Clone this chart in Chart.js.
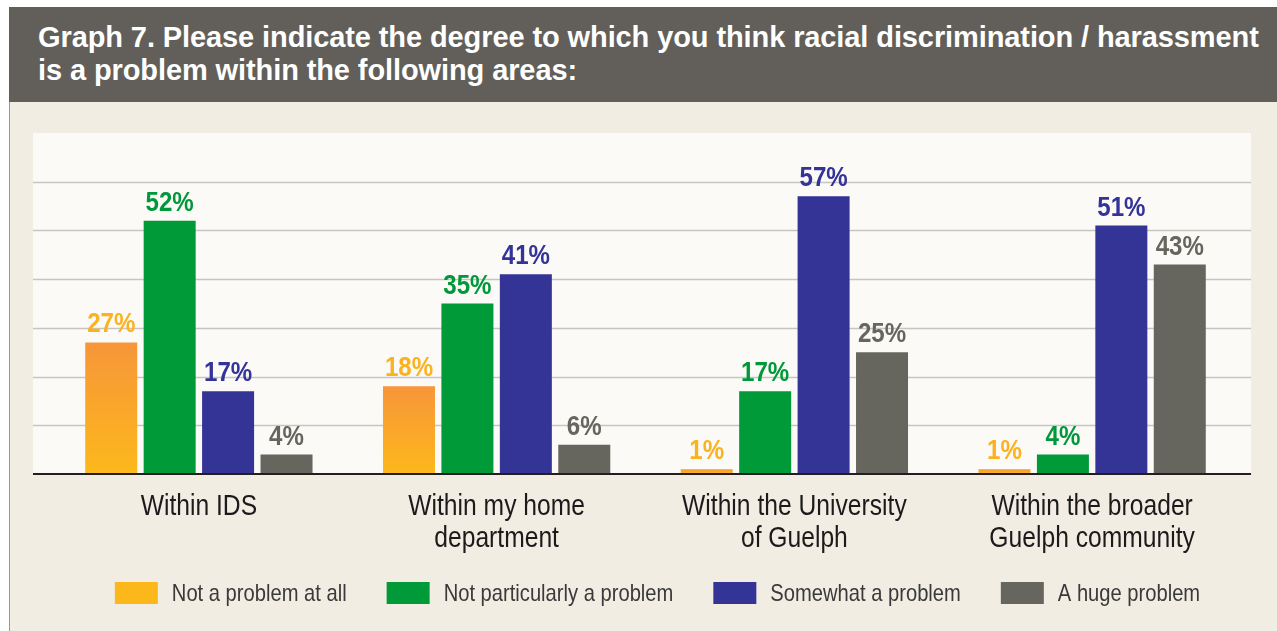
<!DOCTYPE html>
<html>
<head>
<meta charset="utf-8">
<script src="https://cdn.jsdelivr.net/npm/chart.js@4.4.1/dist/chart.umd.min.js"></script>
<style>
  html, body { margin: 0; padding: 0; background: #ffffff; }
  body { width: 1277px; height: 631px; position: relative; overflow: hidden; }
  #frame { position: absolute; left: 9px; top: 7px; right: 0; bottom: 0;
           background: #f1ede3; border-left: 1px solid #9a9892; }
  #title { position: absolute; left: 9px; top: 7px; right: 0; height: 95px;
           background: #625f5a; color: #ffffff; box-sizing: border-box;
           padding: 14px 0 0 29px; font-family: "Liberation Sans", Arial, sans-serif;
           font-weight: bold; font-size: 29px; line-height: 33px; letter-spacing: -0.1px; }
  #wrap { position: absolute; left: 0; top: 0; width: 1277px; height: 631px; }
</style>
</head>
<body>
<div id="frame"></div>
<div id="wrap"><canvas id="myChart" width="1277" height="631"></canvas></div>
<div id="title">Graph 7. Please indicate the degree to which you think racial discrimination / harassment<br>is a problem within the following areas:</div>
<script>
var categories = [
    ['Within IDS'],
    ['Within my home', 'department'],
    ['Within the University', 'of Guelph'],
    ['Within the broader', 'Guelph community']
];
var seriesNames = ['Not a problem at all', 'Not particularly a problem', 'Somewhat a problem', 'A huge problem'];
var notAProblem = [27, 18, 1, 1];
var notParticularly = [52, 35, 17, 4];
var somewhat = [17, 41, 57, 51];
var huge = [4, 6, 25, 43];
var yTicks = [0, 10, 20, 30, 40, 50, 60, 70];

var sans = '"Liberation Sans", Arial, sans-serif';

// no condensed face installed, so squeeze the regular one sideways
function narrowText(ctx, text, x, y, sx) {
    ctx.save();
    ctx.translate(x, y);
    ctx.scale(sx, 1);
    ctx.fillText(text, 0, 0);
    ctx.restore();
}

function orangeFill(c) {
    var chart = c.chart;
    var y = chart.scales.y;
    if (!chart.chartArea || !y) return '#fbb21f';
    var v = c.raw || 0;
    var top = y.getPixelForValue(v);
    var bottom = y.getPixelForValue(0);
    if (bottom - top < 1) return '#f7a030';
    var g = chart.ctx.createLinearGradient(0, top, 0, bottom);
    g.addColorStop(0, '#f7963a');
    g.addColorStop(1, '#fcb81b');
    return g;
}

var legendFills = ['#fcb81b', '#009a38', '#343497', '#67665e'];

var panel = {
    id: 'panel',
    beforeDatasetsDraw: function (chart) {
        var ctx = chart.ctx, y = chart.scales.y, a = chart.chartArea;
        ctx.save();
        ctx.fillStyle = '#fbfaf6';
        ctx.fillRect(33, a.top, 1251 - 33, a.bottom - a.top);
        ctx.strokeStyle = '#c6c5c2';
        ctx.lineWidth = 1.5;
        yTicks.forEach(function (t) {
            if (t === 0 || t === yTicks[yTicks.length - 1]) return;
            var py = Math.round(y.getPixelForValue(t)) + 0.5;
            ctx.beginPath(); ctx.moveTo(33, py); ctx.lineTo(1251, py); ctx.stroke();
        });
        ctx.restore();
    },
    afterDatasetsDraw: function (chart) {
        var ctx = chart.ctx, x = chart.scales.x, y = chart.scales.y, a = chart.chartArea;
        ctx.save();
        ctx.strokeStyle = '#231f20';
        ctx.lineWidth = 2;
        var py = y.getPixelForValue(0);
        ctx.beginPath(); ctx.moveTo(33, py); ctx.lineTo(1251, py); ctx.stroke();

        // value labels
        ctx.textAlign = 'center';
        ctx.textBaseline = 'alphabetic';
        ctx.font = 'bold 28px ' + sans;
        chart.data.datasets.forEach(function (ds, i) {
            var meta = chart.getDatasetMeta(i);
            meta.data.forEach(function (bar, j) {
                ctx.fillStyle = ds.labelColor;
                narrowText(ctx, ds.data[j] + '%', bar.x, bar.y - 10, 0.86);
            });
        });

        // category labels
        ctx.font = '29px ' + sans;
        ctx.fillStyle = '#1c1a1b';
        ctx.textBaseline = 'middle';
        chart.data.labels.forEach(function (lines, i) {
            var cx = x.getPixelForValue(i);
            lines.forEach(function (s, k) {
                narrowText(ctx, s, cx, a.bottom + 33 + k * 32, 0.85);
            });
        });

        // legend
        ctx.font = '24px ' + sans;
        ctx.textAlign = 'left';
        var sx = 0.84, box = 43, gapText = 14, gapItem = 40;
        var widths = chart.data.datasets.map(function (ds) {
            return box + gapText + ctx.measureText(ds.label).width * sx;
        });
        var total = widths.reduce(function (s, w) { return s + w; }, 0) + gapItem * (widths.length - 1);
        var lx = (a.left + a.right) / 2 + 12 - total / 2;
        var ly = a.bottom + 119;
        chart.data.datasets.forEach(function (ds, i) {
            ctx.fillStyle = legendFills[i];
            ctx.fillRect(lx, ly - 11, box, 22);
            ctx.fillStyle = '#3a3a3a';
            narrowText(ctx, ds.label, lx + box + gapText, ly + 1, sx);
            lx += widths[i] + gapItem;
        });
        ctx.restore();
    }
};

var ctx = document.getElementById('myChart');

var data = {
    labels: categories,
    datasets: [
        { label: seriesNames[0], data: notAProblem, backgroundColor: orangeFill, labelColor: '#fbb21f' },
        { label: seriesNames[1], data: notParticularly, backgroundColor: '#009a38', labelColor: '#00983a' },
        { label: seriesNames[2], data: somewhat, backgroundColor: '#343497', labelColor: '#333399' },
        { label: seriesNames[3], data: huge, backgroundColor: '#67665e', labelColor: '#66655e' }
    ]
};

var chart = new Chart(ctx, {
    type: 'bar',
    data: data,
    options: {
        responsive: false,
        animation: false,
        devicePixelRatio: 1,
        layout: { padding: { left: 50, right: 36, top: 133, bottom: 157 } },
        datasets: { bar: { categoryPercentage: 0.785, barPercentage: 0.89 } },
        scales: {
            x: { display: false },
            y: { display: false, min: 0, max: 70 }
        },
        plugins: {
            legend: { display: false },
            tooltip: { enabled: false }
        }
    },
    plugins: [panel]
});
</script>
</body>
</html>
